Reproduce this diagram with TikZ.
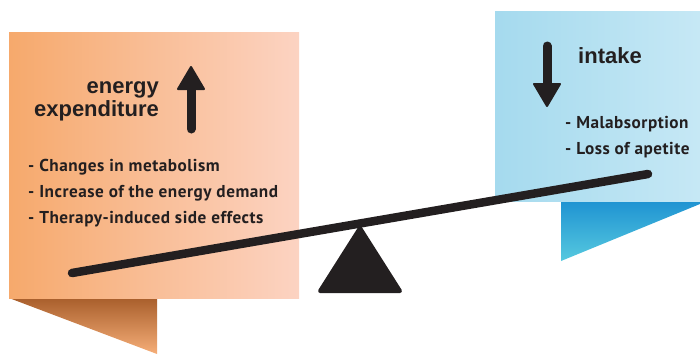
\documentclass[tikz,border=0pt]{standalone}
\usepackage{fontspec}
\newfontfamily\headfont{Liberation Sans}
\newfontfamily\listfont{PT Sans}[LetterSpace=3]
\definecolor{ink}{HTML}{231F20}
\definecolor{orangeL}{HTML}{F6A96C}
\definecolor{orangeR}{HTML}{FCD3C2}
\definecolor{foldBrown}{HTML}{A95F2C}
\definecolor{foldOrange}{HTML}{F6AE78}
\definecolor{blueL}{HTML}{A5DAEE}
\definecolor{blueR}{HTML}{C6E8F5}
\definecolor{foldBlue}{HTML}{1F93D2}
\definecolor{foldCyan}{HTML}{56C9DF}
\tikzset{
  heading/.style={font=\headfont\bfseries\fontsize{22}{24}\selectfont, text=ink, inner sep=0pt},
  item/.style={font=\listfont\bfseries\fontsize{17.2}{18}\selectfont, text=ink, inner sep=0pt, anchor=base west},
  bigarrow/.style={ink, line width=9pt, line cap=round},
  arrowhead/.style={fill=ink, draw=ink, line width=2pt, line join=round},
}
\begin{document}
\begin{tikzpicture}[x=1pt, y=-1pt]
\useasboundingbox (0,0) rectangle (700,354);

% orange panel with its folded flap
\shade[top color=foldBrown, bottom color=foldOrange] (9,298) -- (157,298) -- (157,354) -- cycle;
\shade[left color=orangeL, right color=orangeR] (9,32) rectangle (299,298);

% blue panel with its folded flap
\shade[top color=foldBlue, bottom color=foldCyan] (561,201) -- (700,201) -- (700,204) -- (561,261) -- cycle;
\shade[left color=blueL, right color=blueR] (495,11) rectangle (700,201);

% energy expenditure block
\node[heading, anchor=base east] (energy) at (159,93) {energy};
\node[heading, anchor=base east] (expend) at (159,116) {expenditure};
\draw[bigarrow] (191,129) -- (191,86);
\filldraw[arrowhead] (178,89) -- (191,67) -- (204,89) -- cycle;

\node[item] (l1) at (28,171) {- Changes in metabolism};
\node[item] (l2) at (28,197) {- Increase of the energy demand};
\node[item] (l3) at (28,223) {- Therapy-induced side effects};

% intake block
\node[heading, anchor=base west] (intake) at (578,63) {intake};
\draw[bigarrow] (547,46) -- (547,87);
\filldraw[arrowhead] (534,84) -- (547,106) -- (560,84) -- cycle;

\node[item] (r1) at (565,128) {- Malabsorption};
\node[item] (r2) at (565,154) {- Loss of apetite};

% seesaw: fulcrum and beam
\filldraw[fill=ink, draw=ink, line width=4pt, line join=round] (360,228) -- (400,291) -- (320,291) -- cycle;
\coordinate (beamL) at (72,273);
\coordinate (beamR) at (648,174);
\draw[ink, line width=8.5pt, line cap=round] (beamL) -- (beamR);
\end{tikzpicture}
\end{document}
